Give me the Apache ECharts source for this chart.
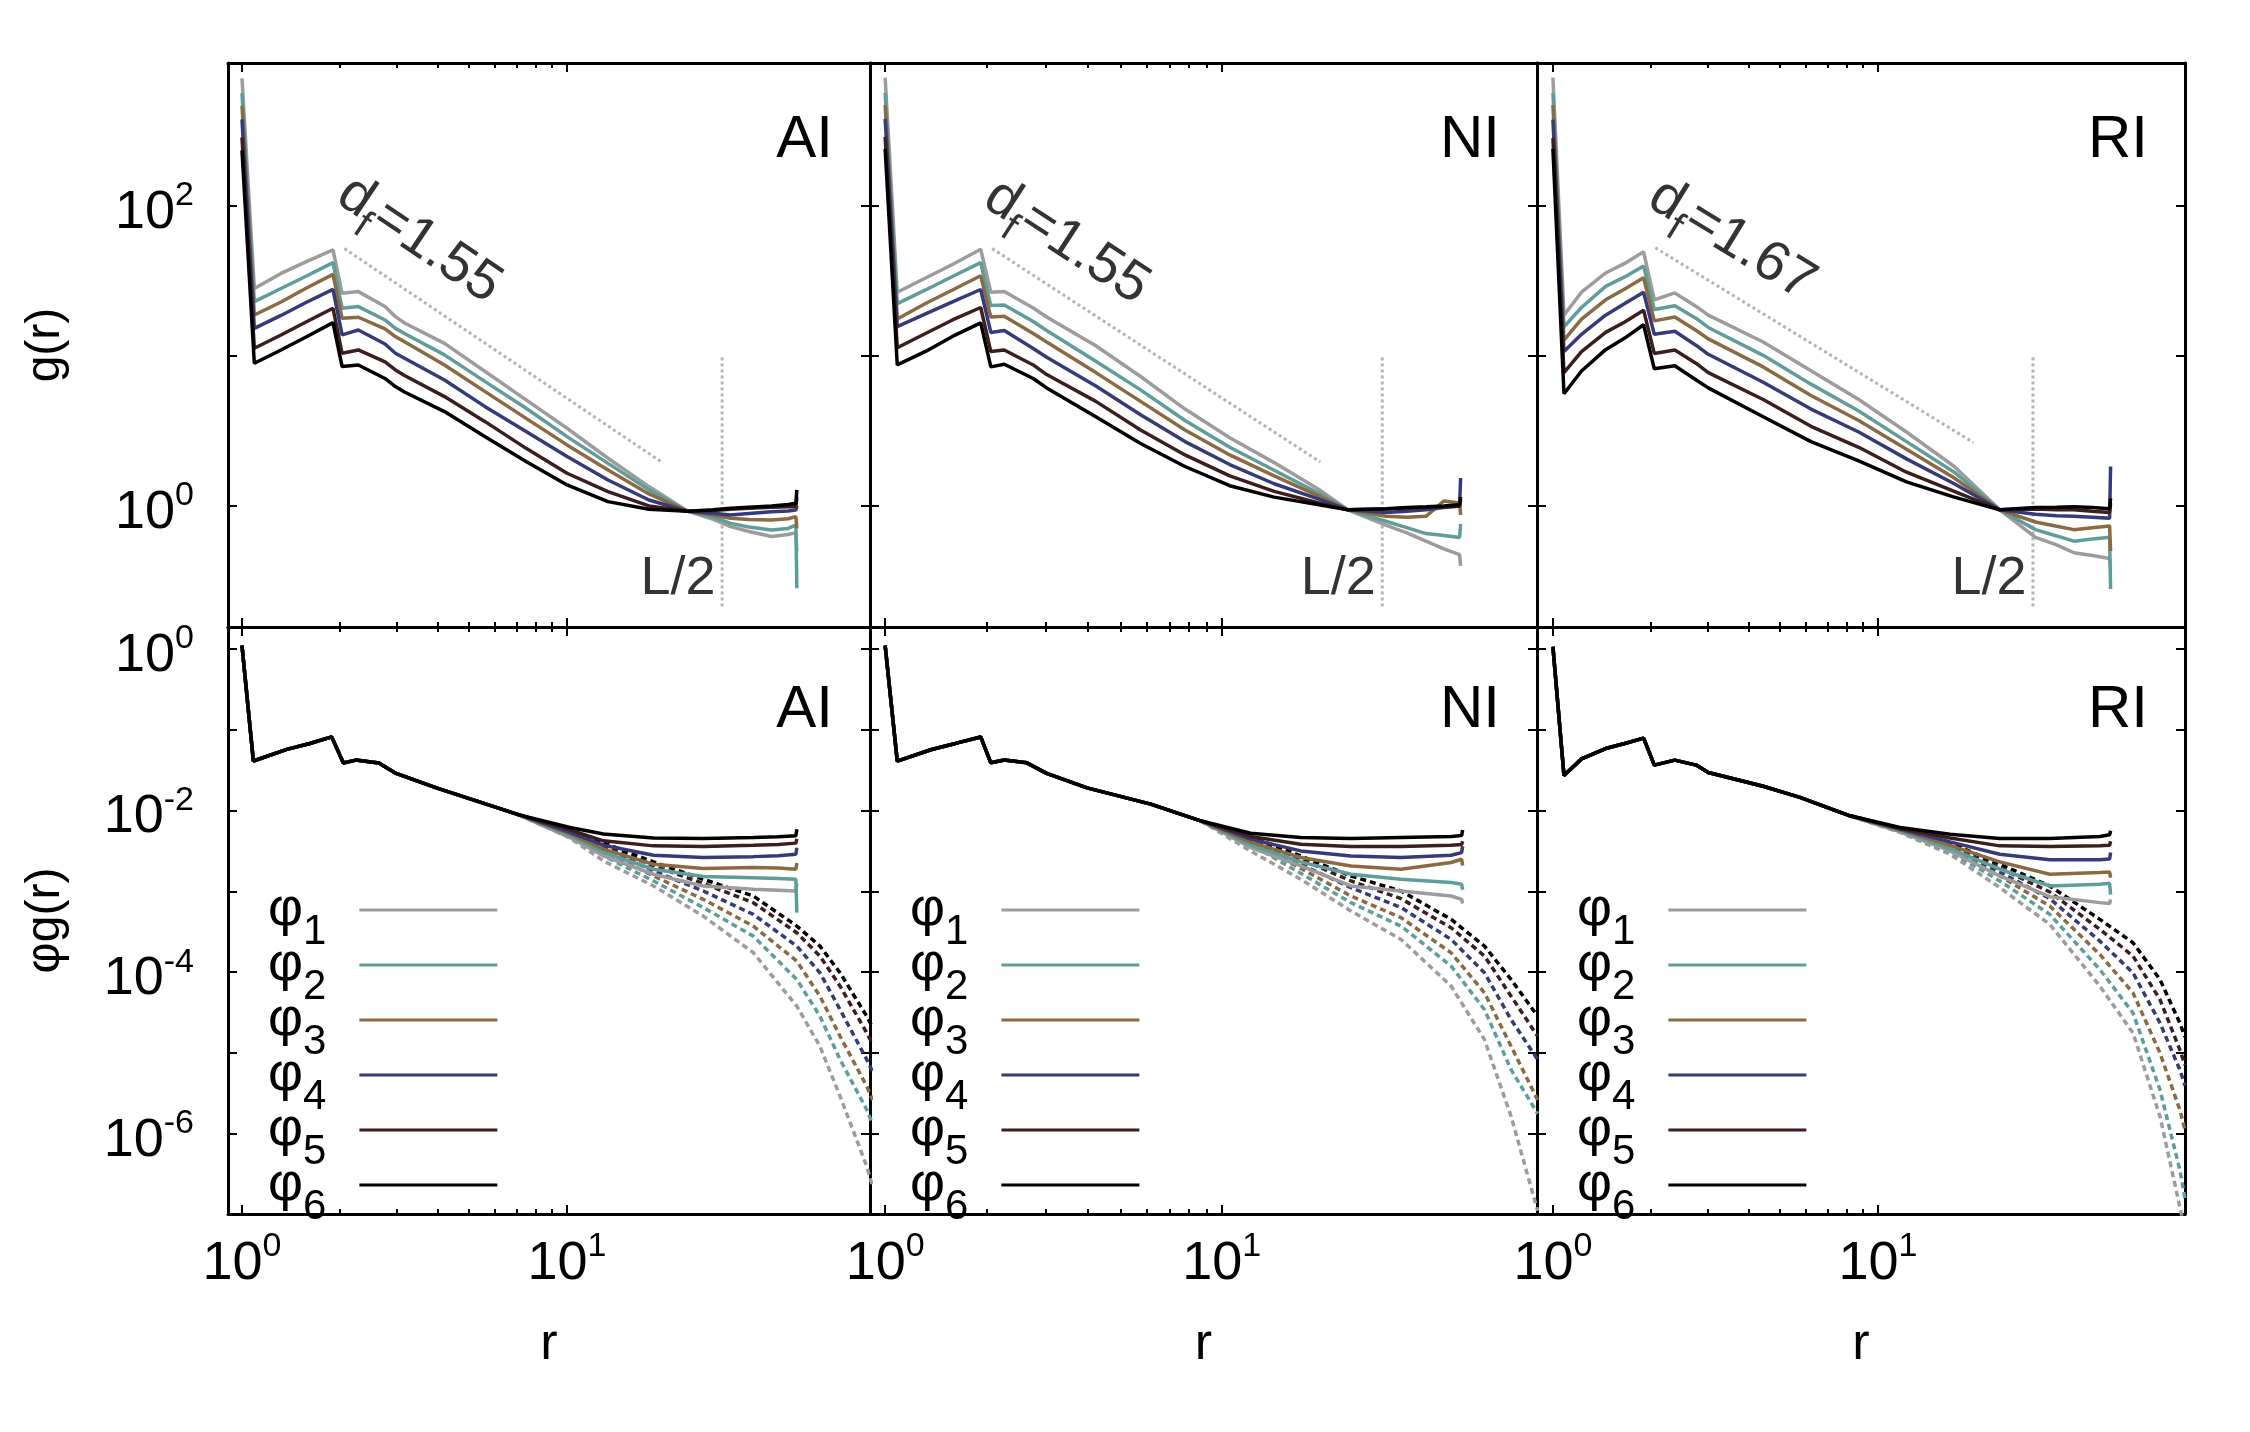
<!DOCTYPE html>
<html lang="en">
<head>
<meta charset="utf-8"/>
<title>g(r) and φg(r) for AI / NI / RI</title>
<script src="https://cdn.jsdelivr.net/npm/echarts@6/dist/echarts.min.js"></script>
<style>
    html, body { margin: 0; padding: 0; background: #fff; }
    #chart { width: 2250px; height: 1432px; }
</style>
</head>
<body>
<div id="chart"></div>
<script>
// ---------------- data (stored as log10 values) ----------------
var panels = ['AI', 'NI', 'RI'];
var phiNames = ['φ1', 'φ2', 'φ3', 'φ4', 'φ5', 'φ6'];
var colors = ['#9c9c9c', '#5e9d9a', '#8b6a41', '#363a78', '#3d1e1e', '#000000'];

// tick values (r for x, exponent for y)
var xMajorR = [1, 10];
var xMinorR = [2, 3, 4, 5, 6, 7, 8, 9];
var topYTicks = [0, 1, 2];
var topYLabels = [0, 2];
var botYTicks = [-6, -5, -4, -3, -2, -1, 0];
var botYLabels = [-6, -4, -2, 0];

// annotations
var dfValues = ['1.55', '1.55', '1.67'];
var halfL = 30;
var halfLSpan = [0.99, -0.69];            // log10 g range of the L/2 marker
var dfLineStart = [[0.315, 1.716], [0.318, 1.716], [0.315, 1.721]];
var dfLineEnd = [[1.295, 0.287], [1.293, 0.293], [1.294, 0.423]];
var dfAnchor = [[0.545, 1.773], [0.539, 1.76], [0.551, 1.773]];
var dfAngle = [-34, -33, -31.5];

// ---- top row: log10 r, log10 g(r) (phi1..phi6)
var topLgR_AI = [0, 0.038, 0.12, 0.2, 0.28, 0.308, 0.358, 0.44, 0.472, 0.5, 0.623, 0.748, 0.874, 1.0, 1.126, 1.252, 1.371, 1.45, 1.503, 1.56, 1.629, 1.68, 1.704, 1.707];
var topLgG_AI = [
    [2.85, 1.45, 1.55, 1.63, 1.707, 1.418, 1.429, 1.33, 1.262, 1.22, 1.084, 0.896, 0.707, 0.518, 0.318, 0.129, -0.035, -0.09, -0.138, -0.17, -0.204, -0.19, -0.178, -0.3],
    [2.75, 1.362, 1.45, 1.535, 1.622, 1.318, 1.329, 1.24, 1.184, 1.15, 1.007, 0.829, 0.651, 0.462, 0.284, 0.107, -0.035, -0.075, -0.116, -0.14, -0.16, -0.15, -0.127, -0.549],
    [2.668, 1.273, 1.36, 1.455, 1.544, 1.251, 1.258, 1.18, 1.129, 1.095, 0.94, 0.762, 0.584, 0.407, 0.24, 0.08, -0.035, -0.06, -0.082, -0.09, -0.093, -0.085, -0.071, -0.15],
    [2.577, 1.184, 1.27, 1.36, 1.444, 1.14, 1.173, 1.08, 1.018, 0.985, 0.84, 0.662, 0.496, 0.329, 0.173, 0.04, -0.035, -0.048, -0.06, -0.05, -0.038, -0.033, -0.027, 0.0],
    [2.457, 1.051, 1.14, 1.23, 1.318, 1.018, 1.04, 0.96, 0.907, 0.87, 0.729, 0.562, 0.384, 0.218, 0.096, 0.0, -0.035, -0.03, -0.022, -0.015, -0.009, -0.006, -0.004, 0.06],
    [2.37, 0.951, 1.04, 1.13, 1.222, 0.929, 0.94, 0.85, 0.796, 0.76, 0.629, 0.462, 0.296, 0.14, 0.029, -0.022, -0.035, -0.025, -0.016, -0.008, 0.0, 0.01, 0.018, 0.107]
];
var topLgR_NI = [0, 0.036, 0.12, 0.2, 0.284, 0.314, 0.354, 0.44, 0.48, 0.626, 0.759, 0.891, 1.024, 1.156, 1.289, 1.375, 1.488, 1.55, 1.607, 1.66, 1.707, 1.71];
var topLgG_NI = [
    [2.856, 1.425, 1.52, 1.61, 1.711, 1.425, 1.43, 1.32, 1.26, 1.068, 0.863, 0.646, 0.455, 0.289, 0.11, -0.026, -0.128, -0.18, -0.235, -0.286, -0.324, -0.40],
    [2.753, 1.349, 1.44, 1.53, 1.622, 1.336, 1.34, 1.23, 1.17, 0.965, 0.774, 0.57, 0.391, 0.238, 0.084, -0.026, -0.102, -0.145, -0.184, -0.197, -0.21, -0.12],
    [2.672, 1.246, 1.35, 1.44, 1.535, 1.259, 1.265, 1.15, 1.093, 0.889, 0.697, 0.506, 0.34, 0.2, 0.066, -0.026, -0.069, -0.075, -0.069, 0.033, 0.02, -0.06],
    [2.58, 1.195, 1.28, 1.36, 1.443, 1.157, 1.17, 1.05, 0.991, 0.8, 0.608, 0.429, 0.276, 0.148, 0.046, -0.026, -0.043, -0.035, -0.026, -0.01, 0.0, 0.186],
    [2.46, 1.055, 1.15, 1.24, 1.323, 1.029, 1.04, 0.94, 0.876, 0.697, 0.506, 0.34, 0.2, 0.097, 0.02, -0.026, -0.02, -0.015, -0.01, -0.005, -0.002, 0.05],
    [2.38, 0.94, 1.03, 1.13, 1.221, 0.927, 0.945, 0.85, 0.787, 0.595, 0.416, 0.263, 0.135, 0.059, 0.008, -0.026, -0.018, -0.01, -0.005, 0.0, 0.008, 0.06]
];
var topLgR_RI = [0, 0.034, 0.088, 0.162, 0.221, 0.279, 0.312, 0.375, 0.441, 0.478, 0.647, 0.794, 0.941, 1.088, 1.235, 1.375, 1.485, 1.55, 1.603, 1.66, 1.713, 1.716];
var topLgG_RI = [
    [2.856, 1.272, 1.425, 1.553, 1.617, 1.694, 1.374, 1.42, 1.33, 1.272, 1.093, 0.902, 0.71, 0.493, 0.263, -0.026, -0.209, -0.26, -0.312, -0.33, -0.35, -0.42],
    [2.753, 1.195, 1.323, 1.464, 1.527, 1.599, 1.31, 1.335, 1.25, 1.19, 1.004, 0.812, 0.633, 0.429, 0.225, -0.026, -0.158, -0.2, -0.235, -0.22, -0.209, -0.554],
    [2.672, 1.106, 1.246, 1.374, 1.446, 1.522, 1.234, 1.26, 1.17, 1.114, 0.927, 0.736, 0.57, 0.378, 0.186, -0.026, -0.107, -0.135, -0.158, -0.145, -0.133, -0.3],
    [2.575, 1.029, 1.144, 1.272, 1.349, 1.425, 1.144, 1.165, 1.07, 1.011, 0.825, 0.646, 0.493, 0.314, 0.148, -0.026, -0.056, -0.065, -0.069, -0.075, -0.082, 0.263],
    [2.452, 0.889, 1.029, 1.157, 1.226, 1.305, 1.017, 1.04, 0.95, 0.889, 0.71, 0.531, 0.391, 0.225, 0.097, -0.026, -0.02, -0.025, -0.026, -0.035, -0.043, 0.02],
    [2.38, 0.748, 0.90, 1.042, 1.119, 1.208, 0.914, 0.935, 0.84, 0.787, 0.595, 0.429, 0.301, 0.161, 0.059, -0.026, -0.01, -0.008, -0.005, -0.01, -0.018, 0.05]
];

// ---- bottom row: common head (all phi coincide), then solid and dashed tails
var botHeadR_AI = [0, 0.035, 0.138, 0.209, 0.276, 0.312, 0.35, 0.421, 0.474, 0.598, 0.775];
var botHeadG_AI = [0.041, -1.387, -1.243, -1.171, -1.089, -1.412, -1.376, -1.412, -1.541, -1.72, -1.952];
var botSolidR_AI = [0.85, 1.009, 1.112, 1.266, 1.419, 1.573, 1.65, 1.704, 1.707];
var botSolidG_AI = [
    [-2.05, -2.334, -2.56, -2.788, -2.933, -2.974, -2.985, -2.995, -2.90],
    [-2.05, -2.313, -2.519, -2.726, -2.817, -2.83, -2.84, -2.85, -3.263],
    [-2.05, -2.29, -2.478, -2.664, -2.718, -2.706, -2.71, -2.726, -2.65],
    [-2.05, -2.27, -2.429, -2.553, -2.582, -2.57, -2.56, -2.54, -2.46],
    [-2.05, -2.24, -2.375, -2.437, -2.445, -2.429, -2.42, -2.403, -2.35],
    [-2.05, -2.21, -2.29, -2.34, -2.346, -2.334, -2.325, -2.313, -2.23]
];
var botDashR_AI = [0.85, 1.009, 1.112, 1.266, 1.419, 1.573, 1.707, 1.778, 1.84, 1.922, 1.94];
var botDashG_AI = [
    [-2.05, -2.34, -2.623, -2.933, -3.305, -3.758, -4.42, -4.916, -5.535, -6.4, -6.65],
    [-2.05, -2.31, -2.56, -2.871, -3.2, -3.553, -4.09, -4.544, -5.08, -5.7, -5.88],
    [-2.05, -2.29, -2.5, -2.809, -3.098, -3.429, -3.863, -4.296, -4.792, -5.41, -5.58],
    [-2.05, -2.27, -2.45, -2.747, -2.995, -3.284, -3.677, -4.007, -4.462, -5.08, -5.23],
    [-2.05, -2.25, -2.42, -2.685, -2.9, -3.14, -3.512, -3.8, -4.172, -4.75, -4.89],
    [-2.05, -2.24, -2.40, -2.635, -2.85, -3.057, -3.429, -3.677, -4.007, -4.544, -4.68]
];

var botHeadR_NI = [0, 0.036, 0.138, 0.209, 0.284, 0.314, 0.354, 0.421, 0.48, 0.6, 0.789];
var botHeadG_NI = [0.041, -1.39, -1.245, -1.17, -1.09, -1.41, -1.375, -1.41, -1.54, -1.72, -1.921];
var botSolidR_NI = [0.9375, 1.086, 1.235, 1.384, 1.533, 1.682, 1.713, 1.716];
var botSolidG_NI = [
    [-2.127, -2.457, -2.685, -2.933, -2.995, -3.057, -3.098, -3.15],
    [-2.127, -2.428, -2.635, -2.788, -2.85, -2.891, -2.912, -2.98],
    [-2.127, -2.39, -2.581, -2.685, -2.726, -2.643, -2.602, -2.68],
    [-2.127, -2.354, -2.499, -2.561, -2.582, -2.553, -2.52, -2.44],
    [-2.127, -2.32, -2.416, -2.445, -2.445, -2.429, -2.42, -2.38],
    [-2.127, -2.28, -2.334, -2.346, -2.334, -2.322, -2.31, -2.24]
];
var botDashR_NI = [0.9375, 1.086, 1.235, 1.384, 1.533, 1.682, 1.781, 1.86, 1.939];
var botDashG_NI = [
    [-2.127, -2.50, -2.85, -3.243, -3.594, -4.172, -4.834, -5.783, -6.95],
    [-2.127, -2.42, -2.777, -3.139, -3.429, -3.925, -4.462, -5.205, -5.75],
    [-2.127, -2.39, -2.715, -3.057, -3.325, -3.76, -4.255, -4.916, -5.58],
    [-2.127, -2.36, -2.665, -2.953, -3.2, -3.594, -4.007, -4.586, -5.08],
    [-2.127, -2.34, -2.60, -2.87, -3.09, -3.45, -3.8, -4.296, -4.792],
    [-2.127, -2.32, -2.561, -2.81, -2.995, -3.346, -3.677, -4.09, -4.544]
];

var botHeadR_RI = [0, 0.034, 0.088, 0.162, 0.221, 0.279, 0.312, 0.375, 0.441, 0.478, 0.647, 0.76];
var botHeadG_RI = [0.026, -1.567, -1.361, -1.233, -1.171, -1.104, -1.438, -1.376, -1.438, -1.53, -1.70, -1.838];
var botSolidR_RI = [0.914, 1.068, 1.222, 1.375, 1.529, 1.683, 1.713, 1.716];
var botSolidG_RI = [
    [-2.065, -2.263, -2.499, -2.809, -3.065, -3.139, -3.15, -3.1],
    [-2.065, -2.25, -2.47, -2.726, -2.933, -2.912, -2.90, -3.04],
    [-2.065, -2.24, -2.43, -2.635, -2.788, -2.767, -2.76, -2.83],
    [-2.065, -2.23, -2.388, -2.54, -2.61, -2.61, -2.60, -2.52],
    [-2.065, -2.22, -2.34, -2.437, -2.445, -2.437, -2.43, -2.38],
    [-2.065, -2.21, -2.292, -2.346, -2.346, -2.322, -2.30, -2.25]
];
var botDashR_RI = [0.914, 1.068, 1.222, 1.375, 1.529, 1.683, 1.785, 1.868, 1.929, 1.945];
var botDashG_RI = [
    [-2.065, -2.27, -2.54, -2.953, -3.408, -4.172, -4.751, -5.783, -6.9, -7.2],
    [-2.065, -2.26, -2.51, -2.871, -3.284, -3.966, -4.503, -5.453, -6.442, -6.8],
    [-2.065, -2.25, -2.48, -2.81, -3.181, -3.78, -4.255, -4.999, -5.7, -5.95],
    [-2.065, -2.24, -2.45, -2.76, -3.09, -3.615, -4.007, -4.627, -5.205, -5.4],
    [-2.065, -2.23, -2.42, -2.71, -3.007, -3.47, -3.8, -4.338, -4.958, -5.15],
    [-2.065, -2.22, -2.40, -2.664, -2.933, -3.346, -3.635, -4.09, -4.627, -4.8]
];

var topR = [topLgR_AI, topLgR_NI, topLgR_RI];
var topG = [topLgG_AI, topLgG_NI, topLgG_RI];
var headR = [botHeadR_AI, botHeadR_NI, botHeadR_RI];
var headG = [botHeadG_AI, botHeadG_NI, botHeadG_RI];
var solidR = [botSolidR_AI, botSolidR_NI, botSolidR_RI];
var solidG = [botSolidG_AI, botSolidG_NI, botSolidG_RI];
var dashR = [botDashR_AI, botDashR_NI, botDashR_RI];
var dashG = [botDashG_AI, botDashG_NI, botDashG_RI];

// ---------------- layout ----------------
var FONT = 'Liberation Sans, Arial, sans-serif';
var colLeft = [228, 870, 1537], colWidth = [642, 667, 648];
var rowTop = [63, 627], rowHeight = [564, 587];
var xMin = [-0.043, -0.045, -0.049], xMax = [1.932, 1.937, 1.945];
var yMin = [-0.807, -6.99], yMax = [2.953, 0.27];
var LW = 3.5;

function lg(v) { return Math.log10(v); }
function pairs(xs, ys) {
    var out = [];
    for (var i = 0; i < Math.min(xs.length, ys.length); i++) out.push([xs[i], ys[i]]);
    return out;
}
var powRich = {
    b: {fontFamily: FONT, fontSize: 54, lineHeight: 54, padding: [14, 0, 0, 0], color: '#000'},
    e: {fontFamily: FONT, fontSize: 34, lineHeight: 34, verticalAlign: 'top', color: '#000'}
};
function powLabel(v) { return '{b|10}{e|' + Math.round(v) + '}'; }

var chart = echarts.init(document.getElementById('chart'));
var grids = [], xAxes = [], yAxes = [], series = [], legends = [], texts = [];

function xAxisDef(gi, col, pos, ticks, len, showLine, labels, name) {
    return {
        type: 'value', gridIndex: gi, position: pos, min: xMin[col], max: xMax[col],
        axisLine: {show: showLine, onZero: false, lineStyle: {color: '#000', width: 3}},
        axisTick: {show: true, inside: true, length: len, customValues: ticks, lineStyle: {color: '#000', width: 2}},
        axisLabel: labels ? {show: true, customValues: xMajorR.map(lg), formatter: powLabel, rich: powRich, margin: 16} : {show: false},
        splitLine: {show: false},
        name: name || '', nameLocation: 'middle', nameGap: 105,
        nameTextStyle: {fontFamily: FONT, fontSize: 52, color: '#000'}
    };
}
function yAxisDef(gi, row, pos, labels, name, gap) {
    return {
        type: 'value', gridIndex: gi, position: pos, min: yMin[row], max: yMax[row],
        axisLine: {show: true, onZero: false, lineStyle: {color: '#000', width: 3}},
        axisTick: {show: true, inside: true, length: 9, customValues: row === 0 ? topYTicks : botYTicks, lineStyle: {color: '#000', width: 2}},
        axisLabel: labels ? {show: true, customValues: row === 0 ? topYLabels : botYLabels, formatter: powLabel, rich: powRich, margin: 34} : {show: false},
        splitLine: {show: false},
        name: name || '', nameLocation: 'middle', nameRotate: 90, nameGap: gap || 0,
        nameTextStyle: {fontFamily: FONT, fontSize: 48, color: '#000'}
    };
}
function addLine(gi, name, data, color, dash, width, z) {
    series.push({
        type: 'line', name: name, xAxisIndex: gi * 4, yAxisIndex: gi * 2, data: data,
        symbol: 'none', showSymbol: false, silent: true, animation: false,
        lineStyle: {color: color, width: width || LW, type: dash || 'solid'},
        itemStyle: {color: color}, z: z || 2
    });
}
function addText(gi, point, rich, fmt, position, rotate, distance, size) {
    series.push({
        type: 'scatter', xAxisIndex: gi * 4, yAxisIndex: gi * 2, data: [point],
        symbolSize: 1, itemStyle: {color: 'rgba(0,0,0,0)'}, silent: true, animation: false, z: 5,
        label: {show: true, position: position, rotate: rotate, distance: distance || 0,
            formatter: fmt, rich: rich, color: '#000', fontFamily: FONT, fontSize: size || 54}
    });
}

for (var row = 0; row < 2; row++) {
    for (var col = 0; col < 3; col++) {
        var gi = row * 3 + col;
        grids.push({left: colLeft[col], top: rowTop[row], width: colWidth[col], height: rowHeight[row],
            containLabel: false, outerBoundsMode: 'none'});
        xAxes.push(xAxisDef(gi, col, 'bottom', xMajorR.map(lg), 9, true, row === 1, row === 1 ? 'r' : ''));
        xAxes.push(xAxisDef(gi, col, 'bottom', xMinorR.map(lg), 5, false, false));
        xAxes.push(xAxisDef(gi, col, 'top', xMajorR.map(lg), 9, true, false));
        xAxes.push(xAxisDef(gi, col, 'top', xMinorR.map(lg), 5, false, false));
        var yName = col === 0 ? (row === 0 ? 'g(r)' : 'φg(r)') : '';
        yAxes.push(yAxisDef(gi, row, 'left', col === 0, yName, 158));
        yAxes.push(yAxisDef(gi, row, 'right', false));

        // panel name
        texts.push({type: 'text', right: 2250 - colLeft[col] - colWidth[col] + 37, top: row === 0 ? 110 : 680,
            style: {text: panels[col], font: '60px ' + FONT, fill: '#000'}});

        if (row === 0) {
            // reference power law and L/2 marker
            addLine(gi, 'df' + col, [dfLineStart[col], dfLineEnd[col]], '#b4b4b4', [3, 3], 3, 1);
            addLine(gi, 'L2' + col, [[lg(halfL), halfLSpan[0]], [lg(halfL), halfLSpan[1]]], '#b4b4b4', [3, 3], 3, 1);
            for (var i = 0; i < 6; i++) {
                addLine(gi, phiNames[i], pairs(topR[col], topG[col][i]), colors[i]);
            }
            addText(gi, dfAnchor[col], {
                a: {fontFamily: FONT, fontSize: 56, lineHeight: 56, verticalAlign: 'top', color: '#000'},
                s: {fontFamily: FONT, fontSize: 40, lineHeight: 40, verticalAlign: 'top', padding: [28, 0, 0, 0], color: '#000'}
            }, '{a|d}{s|f}{a|=' + dfValues[col] + '}', 'inside', dfAngle[col]);
            addText(gi, [lg(halfL), -0.49], {}, 'L/2', 'left', 0, 6, 54);
        } else {
            for (var j = 0; j < 6; j++) {
                addLine(gi, phiNames[j], pairs(headR[col], headG[col]).concat(pairs(solidR[col], solidG[col][j])), colors[j], 'solid', LW, 3);
            }
            for (var k = 0; k < 6; k++) {
                addLine(gi, phiNames[k] + ' L', pairs(dashR[col], dashG[col][k]), colors[k], [6, 4], LW, 2);
            }
            legends.push({
                orient: 'vertical', align: 'right', left: colLeft[col] + 40, top: 883, padding: 0,
                icon: 'rect', itemGap: -15, itemWidth: 138, itemHeight: 3, selectedMode: false,
                data: phiNames,
                formatter: function (n) { return '{p|φ}{s|' + n.slice(1) + '}'; },
                textStyle: {rich: {
                    p: {fontFamily: FONT, fontSize: 54, lineHeight: 54, verticalAlign: 'top', color: '#000'},
                    s: {fontFamily: FONT, fontSize: 42, lineHeight: 42, verticalAlign: 'top', padding: [28, 28, 0, 0], color: '#000'}
                }}
            });
        }
    }
}

chart.setOption({
    animation: false,
    backgroundColor: '#fff',
    grid: grids,
    xAxis: xAxes,
    yAxis: yAxes,
    legend: legends,
    graphic: {elements: texts},
    series: series
});
</script>
</body>
</html>
